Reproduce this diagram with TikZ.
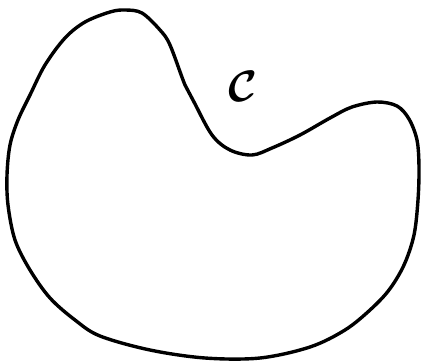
\documentclass[tikz,border=0pt]{standalone}
\usepackage{amsmath}
\begin{document}
\begin{tikzpicture}[x=1pt,y=-1pt,
  blob/.style={line width=3.4pt, line join=round, black},
  lbl/.style={inner sep=0pt}]
\useasboundingbox (0,0) rectangle (421,362);
\draw[blob] plot[smooth cycle, tension=0.55] coordinates {
 (125,10) (142,13) (160,30) (170,45) (185,85) (194,102) (212,135) (230,150)
 (252,155) (272,148) (300,135) (330,118) (352,107) (377,102) (397,106)
 (409,119) (417,140) (419,167) (418,200) (414,235) (404,265) (389,290)
 (370,310) (345,330) (310,347) (260,358) (205,358) (150,350) (100,336)
 (75,320) (50,298) (30,270) (15,240) (8,205) (7,175) (10,145) (18,120)
 (30,95) (45,65) (65,38) (85,22) (110,12)};
\node[lbl] (c) at (243,86) {\scalebox{4.4}{$\boldsymbol{\mathcal{C}}$}};
\end{tikzpicture}
\end{document}
